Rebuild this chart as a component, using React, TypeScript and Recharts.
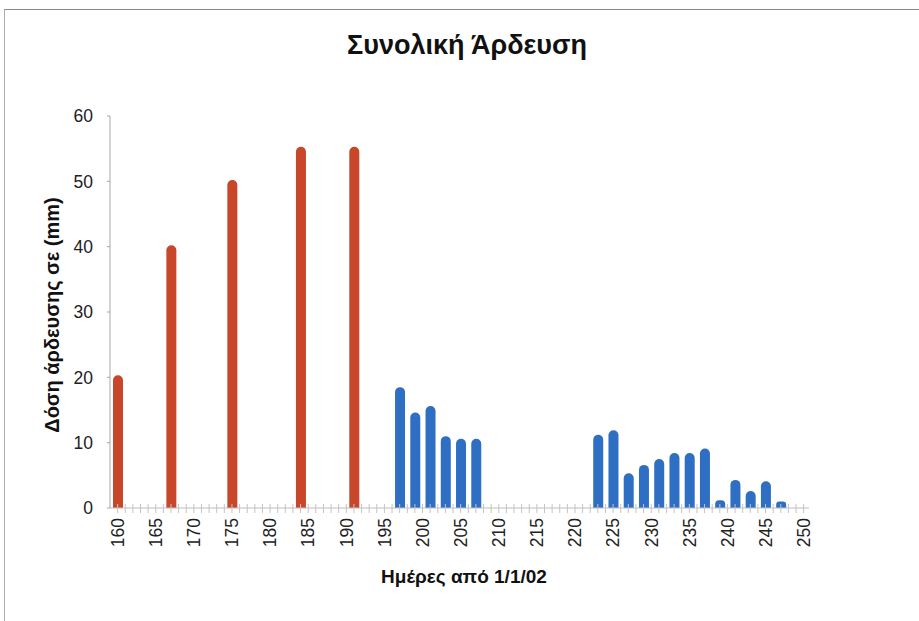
import React from "react";
import { Bar, BarChart, Cell, XAxis, YAxis } from "recharts";

// irrigation events (day of year, mm)
const redDays = [160, 167, 175, 184, 191];
const redMm = [20.3, 40.2, 50.2, 55.3, 55.3];

const blueDays = [197, 199, 201, 203, 205, 207, 223, 225, 227, 229, 231, 233, 235, 237, 239, 241, 243, 245, 247];
const blueMm = [18.5, 14.6, 15.6, 11.0, 10.6, 10.6, 11.2, 11.9, 5.3, 6.6, 7.5, 8.4, 8.4, 9.1, 1.2, 4.3, 2.6, 4.1, 1.0];

const yTicks = [0, 10, 20, 30, 40, 50, 60];
const xLabels = [160, 165, 170, 175, 180, 185, 190, 195, 200, 205, 210, 215, 220, 225, 230, 235, 240, 245, 250];
// one minor tick per day along the axis
const dayTicks = Array.from({ length: 91 }, (_, i) => 160 + i);

const RED = "#c8472a";
const BLUE = "#2e6fc4";
const FONT = '"Liberation Sans", Arial, sans-serif';

const table = [
  ...redDays.map((day, i) => ({ day, mm: redMm[i], color: RED })),
  ...blueDays.map((day, i) => ({ day, mm: blueMm[i], color: BLUE })),
];

const DayTick = (props: any) => {
  const { x, y, payload } = props;
  if (!xLabels.includes(payload.value)) return <g />;
  return (
    <text
      x={x}
      y={y}
      transform={`rotate(-90 ${x} ${y})`}
      textAnchor="end"
      dy="0.36em"
      fontSize={17.5}
      fontFamily={FONT}
      fill="#222"
    >
      {payload.value}
    </text>
  );
};

const NoLabel = () => <g />;

const App: React.FC = () => {
  return (
    <div
      style={{
        position: "absolute",
        left: 0,
        top: 0,
        width: 919,
        height: 621,
        background: "#fff",
        fontFamily: FONT,
      }}
    >
      <div
        style={{
          position: "absolute",
          left: 4,
          top: 9,
          width: 915,
          height: 612,
          borderTop: "1px solid #8a8a8a",
          borderLeft: "1px solid #b0b0b0",
        }}
      />
      <div
        style={{
          position: "absolute",
          left: 0,
          width: 934,
          top: 30,
          textAlign: "center",
          fontSize: 27,
          fontWeight: "bold",
          color: "#111",
        }}
      >
        Συνολική Άρδευση
      </div>
      <div
        style={{
          position: "absolute",
          left: 52 - 150,
          top: 315 - 12,
          width: 300,
          height: 24,
          lineHeight: "24px",
          textAlign: "center",
          transform: "rotate(-90deg)",
          fontSize: 20,
          fontWeight: "bold",
          color: "#111",
        }}
      >
        Δόση άρδευσης σε (mm)
      </div>
      <div
        style={{
          position: "absolute",
          left: 464 - 150,
          width: 300,
          top: 566,
          textAlign: "center",
          fontSize: 19,
          fontWeight: "bold",
          color: "#111",
        }}
      >
        Ημέρες από 1/1/02
      </div>

      <div style={{ position: "absolute", left: 0, top: 0 }}>
        <BarChart
          width={919}
          height={621}
          data={table}
          margin={{ top: 116, right: 110, bottom: 53, left: 0 }}
        >
          <XAxis
            dataKey="day"
            type="number"
            domain={[159, 250.7]}
            ticks={dayTicks}
            interval={0}
            height={60}
            tickSize={5}
            tickMargin={5}
            axisLine={{ stroke: "#bdbdbd" }}
            tickLine={{ stroke: "#c4c4c4" }}
            tick={<DayTick />}
          />
          <XAxis
            xAxisId="minor"
            dataKey="day"
            type="number"
            domain={[159, 250.7]}
            ticks={dayTicks}
            interval={0}
            mirror
            tickSize={4}
            axisLine={false}
            tickLine={{ stroke: "#c4c4c4" }}
            tick={<NoLabel />}
          />
          <YAxis
            type="number"
            domain={[0, 60]}
            ticks={yTicks}
            width={110}
            tickSize={3}
            tickMargin={14}
            axisLine={{ stroke: "#a8a8a8" }}
            tickLine={{ stroke: "#a8a8a8" }}
            tick={{ fontSize: 17.5, fontFamily: FONT, fill: "#222" }}
          />
          <YAxis
            yAxisId="minor"
            type="number"
            domain={[0, 60]}
            ticks={yTicks}
            mirror
            tickSize={6}
            axisLine={false}
            tickLine={{ stroke: "#a8a8a8" }}
            tick={<NoLabel />}
          />
          <Bar dataKey="mm" barSize={10} radius={[5, 5, 0, 0]} isAnimationActive={false}>
            {table.map((row) => (
              <Cell key={row.day} fill={row.color} />
            ))}
          </Bar>
        </BarChart>
      </div>
    </div>
  );
};

export default App;
